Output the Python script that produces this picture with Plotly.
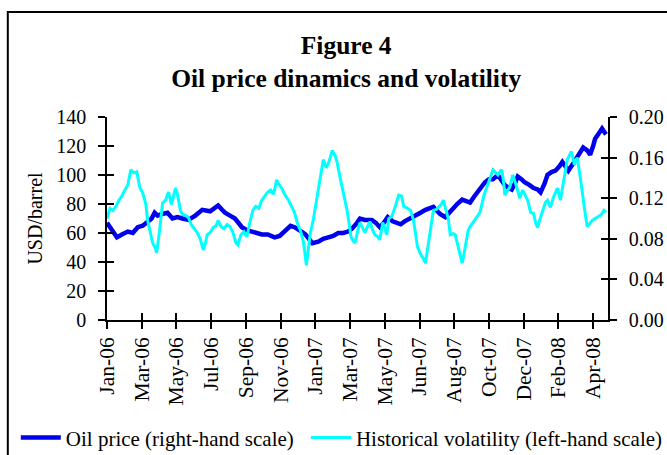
import plotly.graph_objects as go

oil_obs = [0, 5, 10, 15, 21, 26, 31, 36, 41, 45, 48, 51, 55, 61, 66, 71, 76, 82, 89, 96,
           104, 108, 112, 116, 119, 124, 129, 136, 141, 146, 151, 156, 162, 169, 174, 177,
           182, 185, 189, 192, 196, 200, 204, 207, 213, 218, 223, 228, 233, 238, 243, 247,
           252, 255, 260, 267, 271, 275, 279, 283, 288, 292, 296, 300, 306, 311, 316, 321,
           326, 329, 333, 336, 341, 345, 348, 353, 358, 362, 366, 370, 373, 377, 381, 385,
           389, 394, 398, 401, 405, 408, 411, 414, 418, 421, 426, 430, 434, 437, 441, 444,
           448, 452, 456, 459, 462, 465, 469, 474, 477, 480, 484, 487, 490, 492, 495, 499,
           502, 503]
oil_price = [67, 62, 57, 59, 61, 60, 64, 65, 68, 70, 74, 72, 73, 74, 70, 71, 70, 69, 72, 76,
             75, 77, 79, 76, 74, 72, 70, 64, 62, 61, 60, 59, 59, 57, 58, 60,
             63, 65, 64, 63, 61, 59, 56, 53, 54, 56, 57, 58, 60, 60, 61, 63,
             67, 70, 69, 69, 67, 64, 67, 71, 68, 67, 66, 68, 70, 72, 74, 76,
             77, 78, 75, 73, 71, 74, 77, 80, 83, 82, 81, 85, 88, 92, 95, 97,
             97, 100, 96, 93, 91, 90, 94, 99, 97, 95, 93, 91, 90, 88, 94, 100,
             102, 103, 106, 109, 106, 103, 107, 112, 116, 119, 117, 114, 120, 125, 128, 132,
             129, 128]

vol_obs = [0, 3, 6, 9, 12, 15, 18, 21, 24, 27, 30, 33, 36, 39, 41, 44, 46, 49, 50, 53, 56,
           59, 62, 65, 67, 69, 71, 74, 76, 79, 82, 85, 88, 91, 94, 97, 99, 101, 104, 107,
           110, 112, 115, 118, 121, 124, 127, 130, 132, 135, 138, 141, 144, 147, 150, 153,
           156, 159, 162, 165, 168, 171, 173, 176, 179, 183, 186, 189, 192, 195, 198, 200,
           201, 203, 205, 208, 211, 213, 216, 218, 221, 223, 225, 227, 230, 232, 235, 237,
           240, 242, 244, 246, 248, 250, 253, 255, 258, 260, 263, 265, 268, 270, 273, 275,
           278, 280, 282, 284, 287, 290, 292, 294, 297, 299, 303, 306, 309, 311, 313, 316,
           318, 321, 324, 327, 329, 332, 334, 337, 339, 342, 344, 346, 349, 351, 354, 356,
           358, 360, 362, 364, 366, 369, 371, 374, 376, 378, 380, 383, 386, 389, 392, 394,
           396, 398, 400, 401, 404, 406, 409, 411, 413, 416, 419, 421, 424, 427, 430, 432,
           434, 437, 440, 442, 444, 447, 450, 452, 454, 457, 459, 461, 464, 466, 468, 470,
           471, 473, 474, 477, 479, 480, 482, 484, 487, 489, 492, 494, 497, 499, 501, 503]
volatility = [0.100, 0.110, 0.108, 0.112, 0.118, 0.122, 0.128, 0.133, 0.148, 0.145, 0.146,
              0.131, 0.125, 0.115, 0.098, 0.085, 0.076, 0.070, 0.066, 0.088, 0.115,
              0.118, 0.126, 0.114, 0.122, 0.130, 0.124, 0.108, 0.104, 0.103, 0.101, 0.094,
              0.090, 0.086, 0.080, 0.069, 0.075, 0.084, 0.086, 0.091,
              0.093, 0.098, 0.092, 0.090, 0.094, 0.092, 0.086, 0.076, 0.074, 0.084, 0.087,
              0.082, 0.096, 0.108, 0.112, 0.110,
              0.118, 0.122, 0.126, 0.128, 0.124, 0.138, 0.134, 0.130, 0.124, 0.118, 0.112,
              0.106, 0.095, 0.088, 0.077, 0.060,
              0.054, 0.070, 0.086, 0.099, 0.118, 0.131, 0.148, 0.158, 0.150, 0.154, 0.160,
              0.167, 0.162, 0.155, 0.140, 0.131,
              0.120, 0.108, 0.095, 0.082, 0.078, 0.076, 0.089, 0.096, 0.090, 0.086, 0.093,
              0.097, 0.088, 0.084, 0.082, 0.079,
              0.096, 0.090, 0.084, 0.100, 0.102, 0.110, 0.118, 0.123, 0.122, 0.112, 0.110,
              0.108, 0.098, 0.085, 0.072, 0.065,
              0.062, 0.056, 0.076, 0.095, 0.108, 0.109, 0.111, 0.114, 0.118, 0.108, 0.100,
              0.084, 0.085, 0.084, 0.072, 0.062,
              0.056, 0.066, 0.076, 0.088, 0.092, 0.096, 0.098, 0.103, 0.106, 0.115, 0.123,
              0.131, 0.140, 0.148, 0.145, 0.143,
              0.146, 0.148, 0.134, 0.123, 0.128, 0.131, 0.143, 0.138, 0.131, 0.120, 0.128,
              0.124, 0.118, 0.106, 0.105, 0.096,
              0.091, 0.101, 0.111, 0.116, 0.118, 0.111, 0.121, 0.126, 0.130, 0.118, 0.130,
              0.143, 0.158, 0.162, 0.166, 0.158,
              0.153, 0.158, 0.160, 0.141, 0.125, 0.118, 0.105, 0.092, 0.096, 0.098, 0.100,
              0.101, 0.103, 0.105, 0.108, 0.106]

tick_obs = [0, 35, 70, 105, 140, 175, 210, 245, 280, 315, 350, 385, 420, 455, 490]
tick_labels = ["Jan-06", "Mar-06", "May-06", "Jul-06", "Sep-06", "Nov-06", "Jan-07",
               "Mar-07", "May-07", "Jun-07", "Aug-07", "Oct-07", "Dec-07", "Feb-08", "Apr-08"]
left_ticks = [0, 20, 40, 60, 80, 100, 120, 140]
right_ticks = [0.00, 0.04, 0.08, 0.12, 0.16, 0.20]

FONT = "Liberation Serif"
X_RANGE = [0, 505]

fig = go.Figure()
fig.add_trace(go.Scatter(x=oil_obs, y=oil_price, mode="lines", name="Oil price (right-hand scale)",
                         line=dict(color="#0000EC", width=4.5), yaxis="y", legend="legend"))
fig.add_trace(go.Scatter(x=vol_obs, y=volatility, mode="lines",
                         name="Historical volatility (left-hand scale)",
                         line=dict(color="#00FFFF", width=3), yaxis="y2", legend="legend2"))
# helper (empty) traces so that the inner-tick overlay axes are drawn
fig.add_trace(go.Scatter(x=[None], y=[None], xaxis="x2", yaxis="y", showlegend=False, hoverinfo="skip"))
fig.add_trace(go.Scatter(x=[None], y=[None], xaxis="x", yaxis="y3", showlegend=False, hoverinfo="skip"))
fig.add_trace(go.Scatter(x=[None], y=[None], xaxis="x", yaxis="y4", showlegend=False, hoverinfo="skip"))

axis_common = dict(showgrid=False, zeroline=False, showline=True, linecolor="black",
                   linewidth=1.5, tickcolor="black", tickwidth=1.5, ticklen=7, automargin=False)

legend_common = dict(orientation="h", yanchor="middle", y=-0.58, xanchor="left",
                     font=dict(family=FONT, size=21), bgcolor="rgba(0,0,0,0)", itemwidth=40)

fig.update_layout(
    width=667, height=455,
    margin=dict(l=107, r=59, t=117, b=135, autoexpand=False),
    paper_bgcolor="white", plot_bgcolor="white",
    font=dict(family=FONT, size=20, color="black"),
    title=dict(text="<b>Figure 4<br>Oil price dinamics and volatility</b>",
               x=0.519, xanchor="center", xref="container",
               y=1 - 54 / 455, yanchor="top", yref="container",
               font=dict(family=FONT, size=25.5, color="black")),
    xaxis=dict(range=X_RANGE, tickmode="array", tickvals=tick_obs, ticktext=tick_labels,
               ticks="outside", tickangle=-90, tickfont=dict(family=FONT, size=21.5),
               **axis_common),
    xaxis2=dict(range=X_RANGE, overlaying="x", anchor="y", side="bottom", tickmode="array",
                tickvals=tick_obs, ticks="inside", showticklabels=False, **axis_common),
    yaxis=dict(range=[0, 140], tickmode="array", tickvals=left_ticks, ticks="outside",
               ticklabelstandoff=8, tickfont=dict(family=FONT, size=20),
               title=dict(text="USD/barrel", standoff=8, font=dict(family=FONT, size=20)),
               **axis_common),
    yaxis2=dict(range=[0, 0.20], tickmode="array", tickvals=right_ticks, tickformat=".2f",
                overlaying="y", side="right", anchor="x", ticks="outside",
                ticklabelstandoff=8, tickfont=dict(family=FONT, size=20), **axis_common),
    yaxis3=dict(range=[0, 140], overlaying="y", side="left", anchor="x", tickmode="array",
                tickvals=left_ticks, ticks="inside", showticklabels=False, **axis_common),
    yaxis4=dict(range=[0, 0.20], overlaying="y", side="right", anchor="x", tickmode="array",
                tickvals=right_ticks, ticks="inside", showticklabels=False, **axis_common),
    legend=dict(x=-0.182, **legend_common),
    legend2=dict(x=0.397, **legend_common),
    shapes=[dict(type="rect", xref="paper", yref="paper", x0=-0.198, x1=1.2, y0=-0.8, y1=1.517,
                 line=dict(color="black", width=2), fillcolor="rgba(0,0,0,0)", layer="below")],
    showlegend=True,
)

fig.write_html("out.html", config={"displayModeBar": False})

# remove the default page margin so the figure sits at the window's top-left corner
with open("out.html", encoding="utf-8") as fh:
    page = fh.read()
page = page.replace("<body>", '<body style="margin:0;padding:0;overflow:hidden">', 1)
with open("out.html", "w", encoding="utf-8") as fh:
    fh.write(page)
